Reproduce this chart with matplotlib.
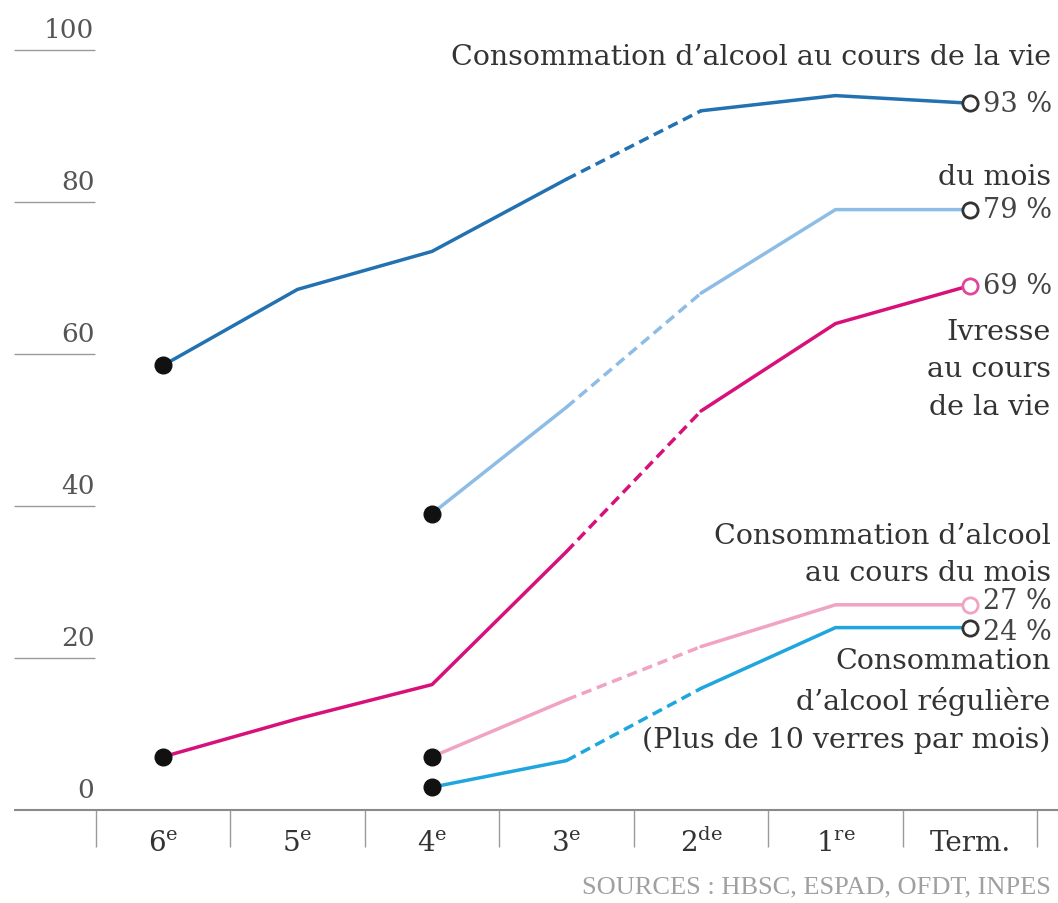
import matplotlib
matplotlib.use("Agg")
import matplotlib.pyplot as plt
import numpy as np

# --------------------------
# DONNÉES
# --------------------------

niveaux = [r"6$^{\mathrm{e}}$", r"5$^{\mathrm{e}}$", r"4$^{\mathrm{e}}$", r"3$^{\mathrm{e}}$",
           r"2$^{\mathrm{de}}$", r"1$^{\mathrm{re}}$", "Term."]
yticks = [0, 20, 40, 60, 80, 100]

vie = [58.5, 68.5, 73.5, 83, 92, 94, 93]                     # consommation au cours de la vie
mois = [np.nan, np.nan, 39, 53, 68, 79, 79]                  # consommation du mois
ivresse = [7, 12, 16.5, 34, 52.5, 64, 69]                    # ivresse au cours de la vie
mois_bis = [np.nan, np.nan, 7, 14.5, 21.5, 27, 27]           # consommation au cours du mois
reguliere = [np.nan, np.nan, 3, 6.5, 16, 24, 24]             # consommation régulière

series = [
    (vie, "#2271b1", "#333333", "93 %"),
    (mois, "#8dbde6", "#333333", "79 %"),
    (ivresse, "#d8107a", "#e0479a", "69 %"),
    (mois_bis, "#f0a3c3", "#f0a3c3", "27 %"),
    (reguliere, "#1fa6de", "#333333", "24 %"),
]

# --------------------------
# FIGURE
# --------------------------

plt.rcParams["mathtext.fontset"] = "dejavuserif"
plt.rcParams["font.family"] = ["DejaVu Serif"]

fig = plt.figure(figsize=(10.58, 9.04), dpi=100)
ax = fig.add_axes([0, 0, 1, 1])
ax.axis("off")

# pixel -> données : x = 163 + 134.5*i, y = 811 - 7.6*v
ax.set_xlim(-163 / 134.5, (1058 - 163) / 134.5)
ax.set_ylim((811 - 904) / 7.6, 811 / 7.6)

x = np.arange(len(niveaux))

# grille courte à gauche + axe
ax.hlines(yticks[1:], -1.108, -0.506, color="#9a9a9a", lw=1)
ax.hlines(0, -1.108, 6.7, color="#8a8a8a", lw=1.5)
ax.vlines(np.arange(len(niveaux) + 1) - 0.5, -4.9, 0, color="#9a9a9a", lw=1)
for t in yticks:
    ax.text(-0.51, t + 1.0, str(t), ha="right", va="bottom", fontsize=19, color="#555555")
for i, lab in enumerate(niveaux):
    ax.text(i, -4.3, lab, ha="center", va="center", fontsize=20, color="#333333")

# courbes : plein sauf entre 3e et 2de (pointillé)
for vals, col, edge, lab in series:
    v = np.array(vals, dtype=float)
    ax.plot(x[:4], v[:4], color=col, lw=2.5, solid_capstyle="round", zorder=2)
    ax.plot(x[3:5], v[3:5], color=col, lw=2.5, ls=(0, (3, 1.7)), zorder=2)
    ax.plot(x[4:], v[4:], color=col, lw=2.5, solid_capstyle="round", zorder=2)
    debut = np.where(~np.isnan(v))[0][0]
    ax.plot(x[debut], v[debut], "o", color="#111111", ms=12, zorder=3)
    ax.plot(x[-1], v[-1], "o", mfc="white", mec=edge, mew=2, ms=11, zorder=3)

# étiquettes des valeurs finales
pk = dict(ha="left", va="center", fontsize=19.5, color="#444444")
ax.text(6.1, 93, "93 %", **pk)
ax.text(6.1, 79, "79 %", **pk)
ax.text(6.1, 69, "69 %", **pk)
ax.text(6.1, 27.6, "27 %", **pk)
ax.text(6.1, 23.5, "24 %", **pk)

xr = 6.6
kw = dict(ha="right", fontsize=20.5, color="#333333", linespacing=1.5)
ax.text(xr, 99.2, "Consommation d\u2019alcool au cours de la vie", va="center", **kw)
ax.text(xr, 83.4, "du mois", va="center", **kw)
ax.text(xr, 64.8, "Ivresse\nau cours\nde la vie", va="top", **kw)
ax.text(xr, 37.9, "Consommation d\u2019alcool\nau cours du mois", va="top", **kw)
ax.text(xr, 21.4, "Consommation\nd\u2019alcool régulière\n(Plus de 10 verres par mois)", va="top", **kw)

ax.text(xr, -10.1, "SOURCES : HBSC, ESPAD, OFDT, INPES", ha="right", va="center",
        fontsize=19, color="#a0a0a0", family=["Liberation Serif"])

fig.savefig("out.png", dpi=100)
